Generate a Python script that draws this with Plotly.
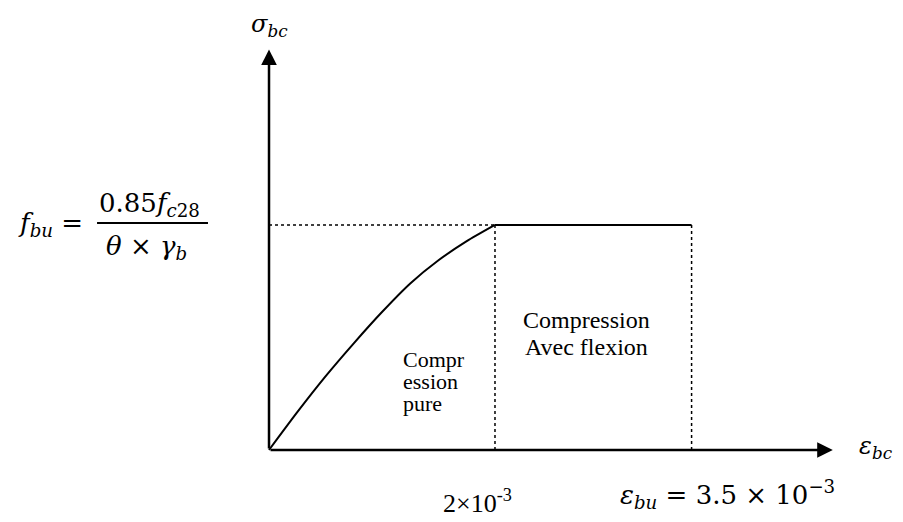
import plotly.graph_objects as go

# ---- schematic data (strain in ‰, stress normalised by f_bu) ----
eps_curve = [0, 0.25, 0.5, 0.75, 1.0, 1.25, 1.5, 1.75, 2.0]
sig_curve = [0, 0.168, 0.327, 0.474, 0.613, 0.740, 0.843, 0.928, 1.0]
eps_peak = 2.0          # 2×10^-3
eps_ult = 3.74          # ε_bu = 3.5×10^-3 (schematic position)
f_bu = 1.0
x_axis_end = 4.99
y_axis_end = 1.78

MATH = "DejaVu Serif"
TEXT = "Liberation Serif"

fig = go.Figure()

# parabolic branch
fig.add_trace(go.Scatter(x=eps_curve, y=sig_curve, mode="lines",
                         line=dict(color="black", width=2, shape="spline", smoothing=0.6),
                         hoverinfo="skip", showlegend=False))
# plateau
fig.add_trace(go.Scatter(x=[eps_peak, eps_ult], y=[f_bu, f_bu], mode="lines",
                         line=dict(color="black", width=2), hoverinfo="skip", showlegend=False))
# dotted guides
fig.add_trace(go.Scatter(x=[0, eps_peak], y=[f_bu, f_bu], mode="lines",
                         line=dict(color="black", width=1.5, dash="dot"), hoverinfo="skip", showlegend=False))
fig.add_trace(go.Scatter(x=[eps_peak, eps_peak], y=[0, f_bu], mode="lines",
                         line=dict(color="black", width=1.5, dash="dot"), hoverinfo="skip", showlegend=False))
fig.add_trace(go.Scatter(x=[eps_ult, eps_ult], y=[0, f_bu], mode="lines",
                         line=dict(color="black", width=1.5, dash="dot"), hoverinfo="skip", showlegend=False))

ann = []
# axes with arrows
ann.append(dict(x=x_axis_end, y=0, ax=0, ay=0, xref="x", yref="y", axref="x", ayref="y",
                text="", showarrow=True, arrowhead=2, arrowwidth=2.5, arrowsize=1.25,
                arrowcolor="black", standoff=0, startstandoff=0))
ann.append(dict(x=0, y=y_axis_end, ax=0, ay=0, xref="x", yref="y", axref="x", ayref="y",
                text="", showarrow=True, arrowhead=2, arrowwidth=2.5, arrowsize=1.25,
                arrowcolor="black", standoff=0, startstandoff=0))

def t(x, y, s, size, fam=MATH, xa="center", ya="middle"):
    ann.append(dict(x=x, y=y, xref="x", yref="y", text=s, showarrow=False,
                    font=dict(family=fam, size=size, color="black"), xanchor=xa, yanchor=ya))

t(0.0, 1.962, "<i>σ</i><sub><i>bc</i></sub>", 24, ya="top")
t(5.54, 0.01, "<i>ε</i><sub><i>bc</i></sub>", 24, xa="right")
t(-1.93, 1.0, "<i>f</i><sub><i>bu</i></sub> =", 26)
t(-1.06, 1.089, "0.85<i>f</i><sub><i>c</i>28</sub>", 26)
t(-1.08, 0.898, "<i>θ</i> × <i>γ</i><sub><i>b</i></sub>", 26)
t(2.814, 0.578, "Compression", 24, TEXT)
t(2.814, 0.458, "Avec flexion", 24, TEXT)
t(1.168, 0.400, "Compr", 22, TEXT, "left")
t(1.168, 0.305, "ession", 22, TEXT, "left")
t(1.168, 0.207, "pure", 22, TEXT, "left")
t(1.845, -0.231, "2×10<sup>-3</sup>", 26, TEXT)
t(4.058, -0.196, "<i>ε</i><sub><i>bu</i></sub> = 3.5 × 10<sup>−3</sup>", 26)

# page body adds an 8 px margin, so the figure is sized to the remaining window
fig.update_layout(
    width=895, height=514, margin=dict(l=0, r=0, t=0, b=0),
    paper_bgcolor="white", plot_bgcolor="white",
    xaxis=dict(range=[-2.310, 5.611], visible=False, fixedrange=True),
    yaxis=dict(range=[-0.32, 1.964], visible=False, fixedrange=True),
    annotations=ann,
    shapes=[dict(type="line", xref="x", yref="y", x0=-1.522, x1=-0.540, y0=1.009, y1=1.009,
                 line=dict(color="black", width=2))],
)

fig.write_html("out.html")
